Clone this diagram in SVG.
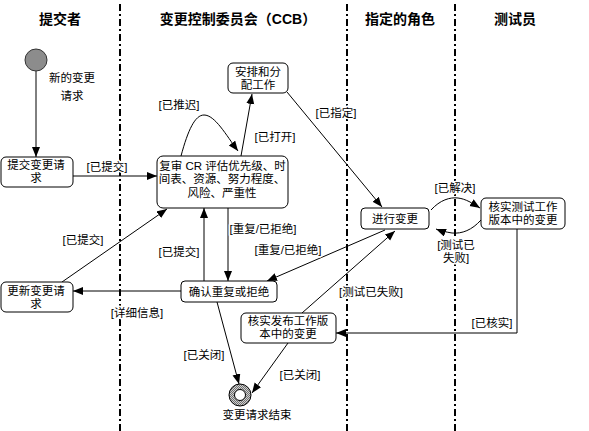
<svg xmlns="http://www.w3.org/2000/svg" width="589" height="431" viewBox="0 0 589 431">
<style>
text{font-family:"Liberation Sans","Noto Sans CJK SC",sans-serif;font-size:11.5px;fill:#000;text-anchor:middle;dominant-baseline:central}
.hdr{font-size:14px;font-weight:bold}
.lbl{stroke:#fff;stroke-width:3;paint-order:stroke;stroke-linejoin:round}
.lane{stroke:#000;stroke-width:2;stroke-dasharray:7 3 2 3;fill:none}
.node{fill:#fff;stroke:#000;stroke-width:1}
.c{stroke:#000;stroke-width:1;fill:none;marker-end:url(#ah)}
</style>
<defs>
<marker id="ah" markerUnits="userSpaceOnUse" markerWidth="11" markerHeight="9" refX="10" refY="4" orient="auto">
<path d="M0,0 L10,4 L0,8 z" fill="#000"/>
</marker>
<pattern id="hatch" width="2" height="2" patternUnits="userSpaceOnUse">
<rect width="2" height="2" fill="#d0d0d0"/>
<rect width="1" height="1" fill="#707070"/>
<rect x="1" y="1" width="1" height="1" fill="#707070"/>
</pattern>
</defs>
<rect width="589" height="431" fill="#fff"/>
<g id="lanes">
<line class="lane" x1="120" y1="4" x2="120" y2="431"/>
<line class="lane" x1="347" y1="4" x2="347" y2="431"/>
<line class="lane" x1="455" y1="4" x2="455" y2="431"/>
<text class="hdr" x="60" y="19">提交者</text>
<text class="hdr" x="238" y="19">变更控制委员会（CCB）</text>
<text class="hdr" x="400" y="19">指定的角色</text>
<text class="hdr" x="515" y="19">测试员</text>
</g>
<g id="connectors">
<line class="c" x1="36" y1="71" x2="36" y2="157"/>
<line class="c" x1="73" y1="176" x2="157" y2="176"/>
<line class="c" x1="241" y1="156" x2="252" y2="94"/>
<path class="c" d="M181,156 C188,130 195,115 204,115 C215,115 226,135 238,151"/>
<line class="c" x1="287" y1="92" x2="382" y2="207"/>
<line class="c" x1="228" y1="208" x2="228" y2="281"/>
<line class="c" x1="204" y1="281" x2="204" y2="208"/>
<line class="c" x1="385" y1="230" x2="267" y2="281"/>
<line class="c" x1="302" y1="313" x2="395" y2="231"/>
<line class="c" x1="181" y1="291" x2="73" y2="291"/>
<line class="c" x1="62" y1="282" x2="167" y2="209"/>
<path class="c" d="M431,210 C440,200 450,197 458,198 C466,199 472,203 480,208"/>
<path class="c" d="M481,220 C472,230 462,234 452,233 C446,232 441,231 436,229"/>
<path class="c" d="M517,229 L517,333 L336,333"/>
<line class="c" x1="217" y1="302" x2="239" y2="384"/>
<line class="c" x1="288" y1="343" x2="252" y2="393"/>
<text class="lbl" x="107" y="167">[已提交]</text>
<text class="lbl" x="275" y="137">[已打开]</text>
<text class="lbl" x="179" y="105">[已推迟]</text>
<text class="lbl" x="336" y="113">[已指定]</text>
<text class="lbl" x="263" y="229">[重复/已拒绝]</text>
<text class="lbl" x="288" y="250">[重复/已拒绝]</text>
<text class="lbl" x="179" y="252">[已提交]</text>
<text class="lbl" x="371" y="292">[测试已失败]</text>
<text class="lbl" x="137" y="313">[详细信息]</text>
<text class="lbl" x="83" y="240">[已提交]</text>
<text class="lbl" x="455" y="188">[已解决]</text>
<text class="lbl" x="456" y="245">[测试已</text>
<text class="lbl" x="456" y="258">失败]</text>
<text class="lbl" x="492" y="323">[已核实]</text>
<text class="lbl" x="204" y="355">[已关闭]</text>
<text class="lbl" x="300" y="375">[已关闭]</text>
</g>
<g id="start">
<circle cx="36" cy="60" r="11" fill="#8c8c8c" stroke="#333"/>
<text x="72" y="78">新的变更</text>
<text x="72" y="96">请求</text>
</g>
<g id="submit">
<rect class="node" x="1" y="157" width="72" height="30" rx="5"/>
<text x="36" y="165">提交变更请</text>
<text x="36" y="178">求</text>
</g>
<g id="review">
<rect class="node" x="157" y="156" width="131" height="52" rx="6"/>
<text x="222.5" y="165.5">复审 CR 评估优先级、时</text>
<text x="222" y="179">间表、资源、努力程度、</text>
<text x="222" y="192.5">风险、严重性</text>
</g>
<g id="arrange">
<rect class="node" x="228" y="63" width="60" height="30" rx="5"/>
<text x="258" y="71.5">安排和分</text>
<text x="258" y="84.5">配工作</text>
</g>
<g id="dochange">
<rect class="node" x="361" y="208" width="68" height="21" rx="4"/>
<text x="395" y="219">进行变更</text>
</g>
<g id="verifytest">
<rect class="node" x="481" y="198" width="84" height="31" rx="5"/>
<text x="523" y="207">核实测试工作</text>
<text x="523" y="220">版本中的变更</text>
</g>
<g id="confirm">
<rect class="node" x="181" y="281" width="96" height="21" rx="4"/>
<text x="229" y="291.5">确认重复或拒绝</text>
</g>
<g id="update">
<rect class="node" x="1" y="282" width="72" height="30" rx="5"/>
<text x="36" y="290.5">更新变更请</text>
<text x="36" y="303.5">求</text>
</g>
<g id="verifyrelease">
<rect class="node" x="241" y="313" width="95" height="30" rx="5"/>
<text x="288" y="321">核实发布工作版</text>
<text x="288" y="334">本中的变更</text>
</g>
<g id="end">
<circle cx="240" cy="395" r="11" fill="url(#hatch)" stroke="#000"/>
<circle cx="240" cy="395" r="5.5" fill="#fff" stroke="#000"/>
<text x="257" y="415">变更请求结束</text>
</g>
</svg>
